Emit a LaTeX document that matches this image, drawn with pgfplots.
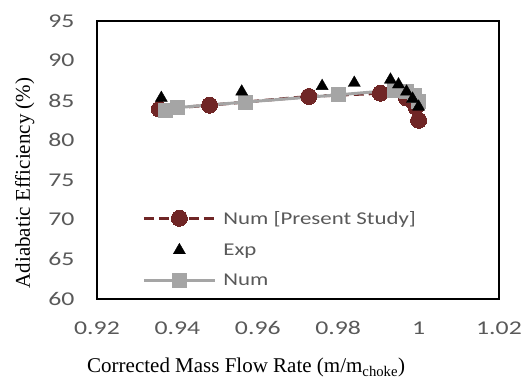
\documentclass[border=0pt]{standalone}
\usepackage{fontspec}
\setmainfont{Liberation Serif}
\newfontfamily\calfont{Carlito}
\usepackage{graphicx}
\usepackage{pgfplots}
\pgfplotsset{compat=1.18}
\definecolor{numred}{RGB}{112,38,38}
\definecolor{numgray}{RGB}{165,165,165}
\definecolor{tickgray}{RGB}{89,89,89}
\newcommand{\legtxt}[1]{\scalebox{1.27}[1]{#1}}
\begin{document}
\begin{tikzpicture}
\begin{axis}[
  scale only axis,
  width=402bp, height=278bp,
  xmin=0.92, xmax=1.02, ymin=60, ymax=95,
  clip=false,
  xtick={0.92,0.94,0.96,0.98,1.00,1.02},
  ytick={60,65,70,75,80,85,90,95},
  major tick length=0pt,
  axis line style={line width=2.5bp, draw=black},
  xticklabel={\scalebox{1.32}[1]{\pgfmathprintnumber[assume math mode=true]{\tick}}},
  yticklabel={\scalebox{1.32}[1]{\pgfmathprintnumber[assume math mode=true]{\tick}}},
  xticklabel style={font=\calfont\fontsize{19.5bp}{22bp}\selectfont, text=tickgray, yshift=-19bp},
  yticklabel style={font=\calfont\fontsize{19.5bp}{22bp}\selectfont, text=tickgray, xshift=-19bp},
  xlabel={Corrected Mass Flow Rate (m/m$_{\mathrm{choke}}$)},
  ylabel={Adiabatic Efficiency (\%)},
  xlabel style={font=\fontsize{21bp}{24bp}\selectfont, at={(axis description cs:0.371,-0.266)}, anchor=base},
  ylabel style={font=\fontsize{21bp}{24bp}\selectfont, at={(axis description cs:-0.1667,0.417)}, anchor=base},
  legend cell align=left,
  legend style={at={(axis description cs:0.105,0.327)}, anchor=north west, draw=none, fill=none,
    font=\calfont\fontsize{18bp}{21bp}\selectfont, text=tickgray, row sep=17bp, column sep=7bp,
    nodes={inner sep=0pt}},
  legend image code/.code={\draw[#1, mark repeat=2, mark phase=2] plot coordinates {(0bp,0bp) (35.5bp,0bp) (71bp,0bp)};},
]
\addplot[forget plot, black, line width=2.5bp, line join=miter, mark=none]
  coordinates {(0.92,60) (1.02,60) (1.02,95) (0.92,95) (0.92,60)} -- cycle;
\addplot[numred, line width=3bp, dash pattern=on 10bp off 5bp, mark=*, mark size=8bp, mark options={solid, fill=numred, draw=numred, line width=0bp}]
  coordinates {(0.9355,83.9) (0.948,84.4) (0.9727,85.5) (0.9905,85.9) (0.997,85.3) (0.9993,84.2) (1.0,82.5)};
\addlegendentry{\legtxt{Num [Present Study]}}
\addlegendimage{only marks, mark=triangle*, mark size=7bp, black}
\addlegendentry{\legtxt{Exp}}
\addlegendimage{numgray, line width=3bp, mark=square*, mark size=7bp, mark options={fill=numgray, draw=numgray, line width=0bp}}
\addlegendentry{\legtxt{Num}}
\addplot[forget plot, numgray, line width=3bp, mark=square*, mark size=7bp, mark options={fill=numgray, draw=numgray, line width=0bp}]
  coordinates {(0.937,83.7) (0.940,84.1) (0.957,84.8) (0.980,85.7) (0.994,86.3) (0.997,86.1) (0.999,85.6) (1.000,84.9)};
\addplot[forget plot, only marks, mark=triangle*, mark size=7bp, black]
  coordinates {(0.936,85.3) (0.956,86.1) (0.976,86.8) (0.984,87.2) (0.993,87.6) (0.995,87.0) (0.997,86.1) (0.9985,85.2) (1.0,84.2)};
\end{axis}
\pgfresetboundingbox
\path (-97bp,-79bp) rectangle (428bp,299bp);
\end{tikzpicture}
\end{document}
